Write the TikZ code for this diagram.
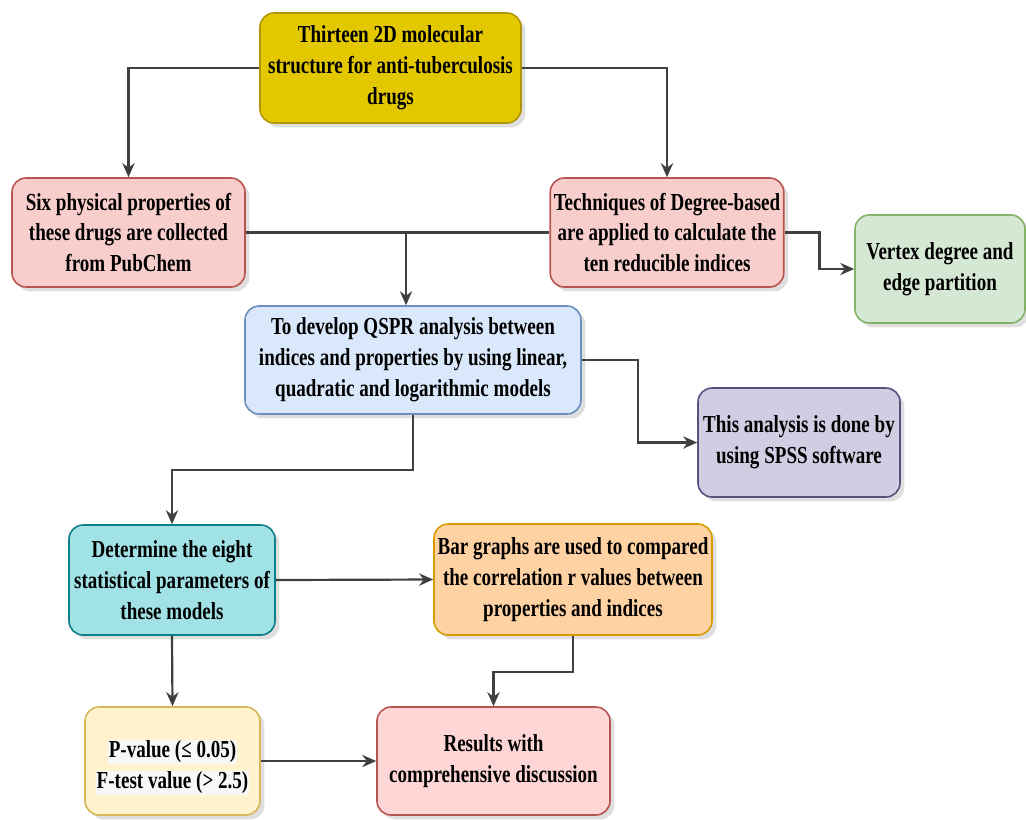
\documentclass[tikz,border=0pt]{standalone}
\usepackage{fontspec}
\setmainfont[FakeStretch=0.78]{Liberation Serif}
\usepackage{xcolor}
\usetikzlibrary{positioning, arrows.meta, shadows}

\definecolor{goldfill}{HTML}{E3C800}
\definecolor{golddraw}{HTML}{B09500}
\definecolor{pinkfill}{HTML}{F8CECC}
\definecolor{pinkdraw}{HTML}{B85450}
\definecolor{greenfill}{HTML}{D5E8D4}
\definecolor{greendraw}{HTML}{82B366}
\definecolor{bluefill}{HTML}{DAE8FC}
\definecolor{bluedraw}{HTML}{6C8EBF}
\definecolor{purplefill}{HTML}{D0CEE2}
\definecolor{purpledraw}{HTML}{56517E}
\definecolor{cyanfill}{HTML}{A0E2E6}
\definecolor{cyandraw}{HTML}{0E8088}
\definecolor{orangefill}{HTML}{FFD2A3}
\definecolor{orangedraw}{HTML}{D79B00}
\definecolor{creamfill}{HTML}{FFF2CC}
\definecolor{creamdraw}{HTML}{D6B656}
\definecolor{rosefill}{HTML}{FFD6D6}
\definecolor{hilite}{HTML}{F7F7F7}

\begin{document}
\begin{tikzpicture}[
    x=0.02cm, y=-0.02cm,
    every node/.style={font=\fontsize{13.9}{17.6}\selectfont\bfseries},
    box/.style={rounded corners=8pt, line width=0.9pt, align=center, inner sep=2pt,
      drop shadow={opacity=0.25, shadow xshift=2.5pt, shadow yshift=-2.5pt}},
    gold/.style={box, fill=goldfill, draw=golddraw},
    pink/.style={box, fill=pinkfill, draw=pinkdraw},
    green/.style={box, fill=greenfill, draw=greendraw},
    blue/.style={box, fill=bluefill, draw=bluedraw},
    purple/.style={box, fill=purplefill, draw=purpledraw},
    cyanbox/.style={box, fill=cyanfill, draw=cyandraw},
    orange/.style={box, fill=orangefill, draw=orangedraw},
    cream/.style={box, fill=creamfill, draw=creamdraw},
    rose/.style={box, fill=rosefill, draw=pinkdraw},
    link/.style={draw=black!75, line width=1.25pt},
    arr/.style={link, -{Stealth[length=8pt, width=7pt, fill=black]}},
  ]
  \useasboundingbox (0,0) rectangle (1026,819);

  \node[gold, minimum width=261*0.02cm, minimum height=110*0.02cm] (thirteen) at (390.5,68)
    {Thirteen 2D molecular\\structure for anti-tuberculosis\\drugs};
  \node[pink, minimum width=233*0.02cm, minimum height=109*0.02cm] (physical) at (128.5,232.5)
    {Six physical properties of\\these drugs are collected\\from PubChem};
  \node[pink, minimum width=232*0.02cm, minimum height=109*0.02cm] (degree) at (667,232.5)
    {Techniques of Degree-based\\are applied to calculate the\\ten reducible indices};
  \node[green, minimum width=170*0.02cm, minimum height=108*0.02cm] (vertex) at (940,269)
    {Vertex degree and\\edge partition};
  \node[blue, minimum width=336*0.02cm, minimum height=108*0.02cm] (qspr) at (413,360)
    {To develop QSPR analysis between\\indices and properties by using linear,\\quadratic and logarithmic models};
  \node[purple, minimum width=202*0.02cm, minimum height=109*0.02cm] (spss) at (799,442.5)
    {This analysis is done by\\using SPSS software};
  \node[cyanbox, minimum width=206*0.02cm, minimum height=110*0.02cm] (stats) at (172,580)
    {Determine the eight\\statistical parameters of\\these models};
  \node[orange, minimum width=278*0.02cm, minimum height=111*0.02cm] (bars) at (573,579.5)
    {Bar graphs are used to compared\\the correlation r values between\\properties and indices};
  \node[cream, minimum width=175*0.02cm, minimum height=108*0.02cm] (tests) at (172.5,761)
    {\mbox{}\\{\fboxsep=0.5pt\colorbox{hilite}{P-value (≤ 0.05)}}\\{\fboxsep=0.5pt\colorbox{hilite}{F-test value (> 2.5)}}};
  \node[rose, minimum width=233*0.02cm, minimum height=108*0.02cm] (results) at (493.5,761)
    {Results with\\comprehensive discussion};

  \coordinate (split) at (406,232.5);

  \draw[arr] (thirteen.west) -| (physical.north);
  \draw[arr] (thirteen.east) -| (degree.north);
  \draw[link] (physical.east) -- (degree.west);
  \draw[arr] (split) -- (split |- qspr.north);
  \draw[arr] (degree.east) -- ++(35,0) |- (vertex.west);
  \draw[arr] (qspr.east) -- ++(56,0) |- (spss.west);
  \draw[arr] (qspr.south) -- ++(0,55) -| (stats.north);
  \draw[arr] (stats.east) -- (bars.west);
  \draw[arr] (stats.south) -- (tests.north);
  \draw[arr] (bars.south) -- ++(0,36) -| (results.north);
  \draw[arr] (tests.east) -- (results.west);
\end{tikzpicture}
\end{document}
